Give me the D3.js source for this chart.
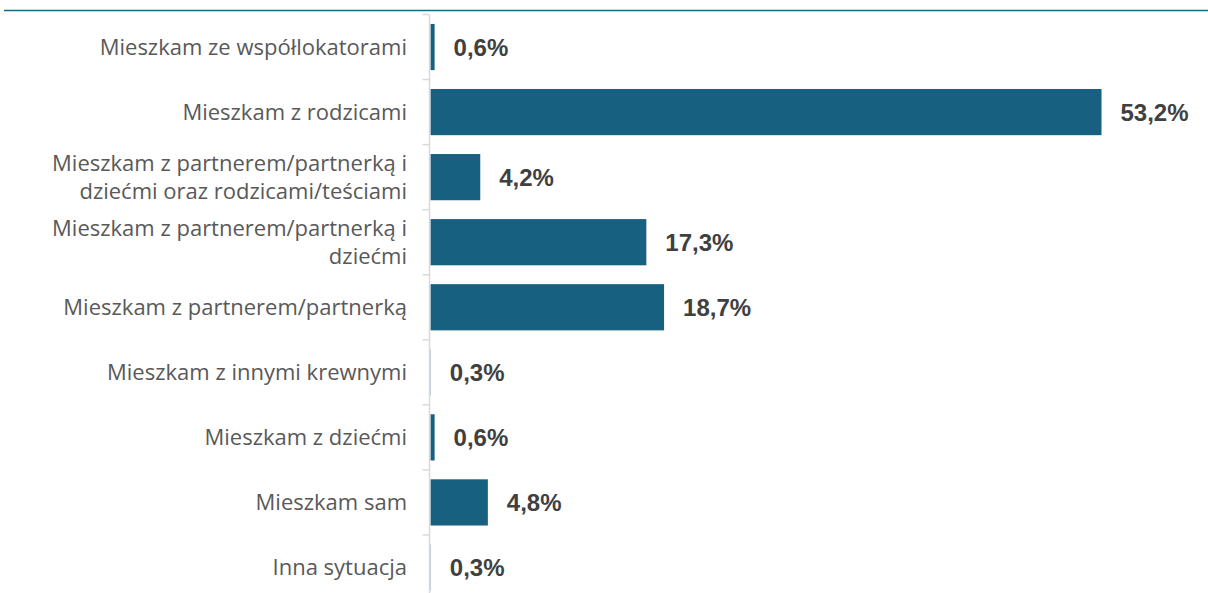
<!DOCTYPE html>
<html>
<head>
  <meta charset="UTF-8">
  <style>
    body { margin: 0; background: #fff; }
    svg { display: block; }
  </style>
</head>
<body>
  <svg></svg>

<script src="https://d3js.org/d3.v7.min.js"></script>
<script>

    let width = 1208;
    let height = 593;

    // categories top to bottom, with manual line breaks
    let categories = [
        ["Mieszkam ze współlokatorami"],
        ["Mieszkam z rodzicami"],
        ["Mieszkam z partnerem/partnerką i", "dziećmi oraz rodzicami/teściami"],
        ["Mieszkam z partnerem/partnerką i", "dziećmi"],
        ["Mieszkam z partnerem/partnerką"],
        ["Mieszkam z innymi krewnymi"],
        ["Mieszkam z dziećmi"],
        ["Mieszkam sam"],
        ["Inna sytuacja"]
    ];
    let values = [0.6, 53.2, 4.2, 17.3, 18.7, 0.3, 0.6, 4.8, 0.3];
    let valueLabels = ["0,6%", "53,2%", "4,2%", "17,3%", "18,7%", "0,3%", "0,6%", "4,8%", "0,3%"];

    let svg = d3.select("svg")
        .attr("width", width)
        .attr("height", height);

    let axisX = 429.5;

    let x = d3.scaleLinear()
        .domain([0, 53.2])
        .range([427, 1101.5]);

    let y = d3.scaleBand()
        .domain(d3.range(categories.length))
        .range([14.5, 600])
        .paddingInner(0.29)
        .paddingOuter(0.145);

    let bandStep = y.step();

    // top rule
    svg.append("line")
        .attr("x1", 4).attr("x2", width)
        .attr("y1", 10.5).attr("y2", 10.5)
        .attr("stroke", "#1b6587")
        .attr("stroke-width", 1.3);

    // bars
    svg.append("g")
        .selectAll("rect")
        .data(values)
        .enter()
        .append("rect")
        .attr("x", axisX + 1)
        .attr("y", (d, i) => y(i))
        .attr("width", d => Math.max(0, x(d) - axisX - 1))
        .attr("height", y.bandwidth())
        .attr("fill", "#17607f");

    // axis line and ticks
    let bounds = d3.range(categories.length + 1).map(i => 14.5 + i * bandStep);
    svg.append("line")
        .attr("x1", axisX).attr("x2", axisX)
        .attr("y1", 14.5).attr("y2", height)
        .attr("stroke", "#d9d9d9")
        .attr("stroke-width", 1.5);
    svg.append("g")
        .selectAll("line")
        .data(bounds)
        .enter()
        .append("line")
        .attr("x1", axisX - 7).attr("x2", axisX)
        .attr("y1", d => d).attr("y2", d => d)
        .attr("stroke", "#d9d9d9")
        .attr("stroke-width", 1.5);

    // category labels
    let cat = svg.append("g")
        .selectAll("text")
        .data(categories)
        .enter()
        .append("text")
        .attr("text-anchor", "end")
        .style("font-family", "'Open Sans', sans-serif")
        .style("font-size", "22px")
        .attr("fill", "#595959");

    cat.each(function(lines, i) {
        let cy = y(i) + y.bandwidth() / 2;
        let lh = 27.5;
        let start = cy - (lines.length - 1) * lh / 2;
        d3.select(this).selectAll("tspan")
            .data(lines)
            .enter()
            .append("tspan")
            .attr("x", 407)
            .attr("y", (d, j) => start + j * lh)
            .attr("dy", "0.35em")
            .text(d => d);
    });

    // value labels
    svg.append("g")
        .selectAll("text")
        .data(values)
        .enter()
        .append("text")
        .attr("x", d => x(d) + 19)
        .attr("y", (d, i) => y(i) + y.bandwidth() / 2)
        .attr("dy", "0.36em")
        .style("font-family", "'Liberation Sans', Arial, sans-serif")
        .style("font-size", "24px")
        .style("font-weight", "bold")
        .attr("fill", "#404040")
        .text((d, i) => valueLabels[i]);

</script>
</body>
</html>
